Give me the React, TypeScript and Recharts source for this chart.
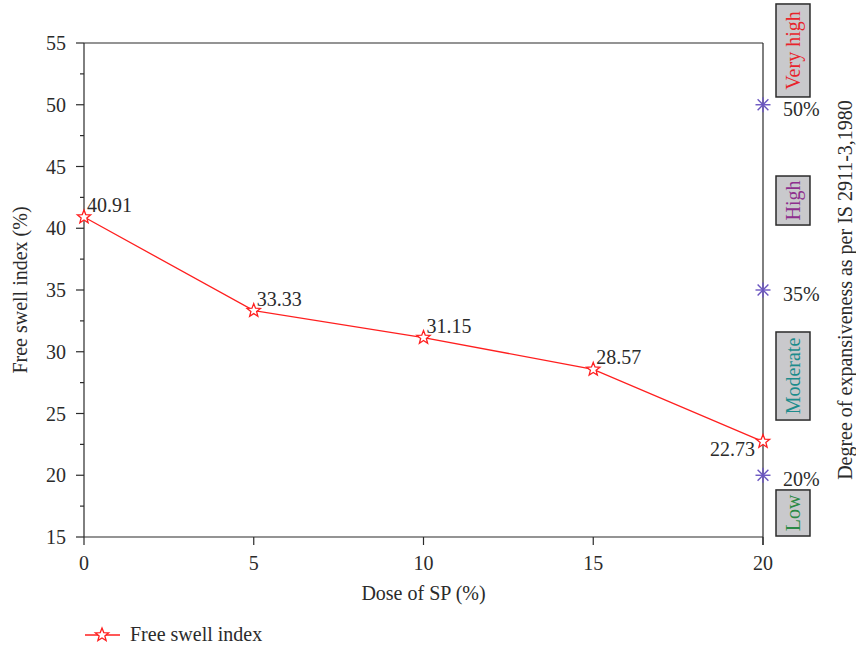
import React from 'react';
import {
  ComposedChart,
  Line,
  Scatter,
  XAxis,
  YAxis,
  ReferenceLine,
  ReferenceArea,
  LabelList,
  Legend,
} from 'recharts';

// ---- data ----
const doses = [0, 5, 10, 15, 20];
const freeSwell = [40.91, 33.33, 31.15, 28.57, 22.73];
const xTicks = [0, 5, 10, 15, 20];
const yTicks = [15, 17.5, 20, 22.5, 25, 27.5, 30, 32.5, 35, 37.5, 40, 42.5, 45, 47.5, 50, 52.5, 55];
const thresholdValues = [50, 35, 20];
const thresholdLabels = ['50%', '35%', '20%'];
const categoryNames = ['Very high', 'High', 'Moderate', 'Low'];
const categoryTop = [58.16, 44.23, 31.6, 18.81];
const categoryBottom = [50.63, 40.26, 24.47, 15.08];
const categoryColors = ['#e8232b', '#8e2f8e', '#1d8c8c', '#2a8a45'];

const lineData = doses.map((d, i) => ({ x: d, y: freeSwell[i] }));
const thresholdData = thresholdValues.map((v, i) => ({ x: 20, y: v, label: thresholdLabels[i] }));

const FONT = '"Liberation Serif", "Times New Roman", serif';
const INK = '#2b2b2b';
const RED = '#ff1f1f';
const PURPLE = '#6a55c0';
const FS = 20;

const starPoints = (cx: number, cy: number, ro: number, ri: number) => {
  const pts: string[] = [];
  for (let k = 0; k < 10; k++) {
    const r = k % 2 === 0 ? ro : ri;
    const a = -Math.PI / 2 + (k * Math.PI) / 5;
    pts.push(`${cx + r * Math.cos(a)},${cy + r * Math.sin(a)}`);
  }
  return pts.join(' ');
};

const StarDot = (props: any) => {
  const { cx, cy } = props;
  if (cx == null || cy == null) return null;
  return <polygon points={starPoints(cx, cy, 7, 3)} fill="#fff" stroke={RED} strokeWidth={1.3} />;
};

const Asterisk = (props: any) => {
  const { cx, cy } = props;
  const r = 7.5;
  const d = r * 0.72;
  return (
    <g stroke={PURPLE} strokeWidth={1.4}>
      <line x1={cx - r} y1={cy} x2={cx + r} y2={cy} />
      <line x1={cx} y1={cy - r} x2={cx} y2={cy + r} />
      <line x1={cx - d} y1={cy - d} x2={cx + d} y2={cy + d} />
      <line x1={cx - d} y1={cy + d} x2={cx + d} y2={cy - d} />
    </g>
  );
};

const YTick = (props: any) => {
  const { x, y, payload } = props;
  const v = payload.value;
  const major = Math.abs(v % 5) < 1e-6;
  return (
    <g>
      <line x1={x - (major ? 8 : 4)} y1={y} x2={x} y2={y} stroke={INK} strokeWidth={1.2} />
      {major && (
        <text x={x - 18} y={y} textAnchor="end" dominantBaseline="central" fill={INK} fontSize={FS} fontFamily={FONT}>
          {v}
        </text>
      )}
    </g>
  );
};

const ValueLabel = (props: any) => {
  const { x, y, value, index } = props;
  const last = index === freeSwell.length - 1;
  return (
    <text
      x={last ? x - 8 : x + 3}
      y={last ? y + 14 : y - 5}
      textAnchor={last ? 'end' : 'start'}
      fill={INK}
      fontSize={FS}
      fontFamily={FONT}
    >
      {Number(value).toFixed(2)}
    </text>
  );
};

const PctLabel = (props: any) => {
  const { x, y, width, height, value } = props;
  const cx = x + (width || 0) / 2;
  const cy = y + (height || 0) / 2;
  return (
    <text x={cx + 20} y={cy + 4} dominantBaseline="central" fill={INK} fontSize={FS} fontFamily={FONT}>
      {value}
    </text>
  );
};

const makeBox = (name: string, color: string) => (props: any) => {
  const { x, y, width, height } = props;
  return (
    <g>
      <rect x={x} y={y} width={width} height={height} fill="#c9c9cc" stroke={INK} strokeWidth={1.5} />
      <text
        x={x + width / 2}
        y={y + height / 2}
        transform={`rotate(-90, ${x + width / 2}, ${y + height / 2})`}
        textAnchor="middle"
        dominantBaseline="central"
        fill={color}
        fontSize={FS}
        fontFamily={FONT}
      >
        {name}
      </text>
    </g>
  );
};

const LegendContent = () => (
  <svg width={250} height={26}>
    <line x1={5} y1={13} x2={40} y2={13} stroke={RED} strokeWidth={1.3} />
    <polygon points={starPoints(22, 13, 7, 3)} fill="#fff" stroke={RED} strokeWidth={1.3} />
    <text x={50} y={19} fill={INK} fontSize={FS} fontFamily={FONT}>
      Free swell index
    </text>
  </svg>
);

export default function App() {
  return (
    <div style={{ position: 'absolute', left: 0, top: 0, width: 856, height: 649, background: '#fff' }}>
      <ComposedChart width={856} height={649} margin={{ top: 43, right: 93, bottom: 72, left: 0 }}>
        <XAxis
          dataKey="x"
          type="number"
          domain={[0, 20]}
          ticks={xTicks}
          interval={0}
          height={40}
          tickSize={8}
          tickMargin={11}
          stroke={INK}
          axisLine={{ stroke: INK, strokeWidth: 1.2 }}
          tickLine={{ stroke: INK, strokeWidth: 1.2 }}
          tick={{ fill: INK, fontSize: FS, fontFamily: FONT }}
          label={{
            content: (p: any) => {
              const vb = p.viewBox || { x: 84, y: 537, width: 679 };
              return (
                <text x={vb.x + vb.width / 2} y={vb.y + 56} textAnchor="middle" dominantBaseline="central" fill={INK} fontSize={FS} fontFamily={FONT}>
                  Dose of SP (%)
                </text>
              );
            },
          }}
        />
        <YAxis
          dataKey="y"
          type="number"
          domain={[15, 55]}
          ticks={yTicks}
          interval={0}
          width={84}
          tickSize={0}
          tickMargin={0}
          tickLine={false}
          axisLine={{ stroke: INK, strokeWidth: 1.2 }}
          tick={<YTick />}
          label={{
            content: (p: any) => {
              const vb = p.viewBox || { x: 0, y: 43, height: 494 };
              const cx = vb.x + 20;
              const cy = vb.y + vb.height / 2;
              return (
                <text x={cx} y={cy} transform={`rotate(-90, ${cx}, ${cy})`} textAnchor="middle" dominantBaseline="central" fill={INK} fontSize={FS} fontFamily={FONT}>
                  Free swell index (%)
                </text>
              );
            },
          }}
        />
        <ReferenceLine y={55} stroke={INK} strokeWidth={1.2} />
        <ReferenceLine
          segment={[{ x: 20, y: 55 }, { x: 20, y: 14.35 }]}
          ifOverflow="visible"
          stroke={INK}
          strokeWidth={1.2}
          label={{
            content: (p: any) => {
              const vb = p.viewBox || { x: 763, y: 43 };
              const cx = vb.x + 82;
              const cy = vb.y + 247;
              return (
                <text x={cx} y={cy} transform={`rotate(-90, ${cx}, ${cy})`} textAnchor="middle" dominantBaseline="central" fill={INK} fontSize={FS} fontFamily={FONT}>
                  Degree of expansiveness as per IS 2911-3,1980
                </text>
              );
            },
          }}
        />
        {categoryNames.map((name, i) => (
          <ReferenceArea
            key={name}
            x1={20.383}
            x2={21.384}
            y1={categoryBottom[i]}
            y2={categoryTop[i]}
            ifOverflow="visible"
            shape={makeBox(name, categoryColors[i])}
          />
        ))}
        <Line
          data={lineData}
          dataKey="y"
          stroke={RED}
          strokeWidth={1.3}
          dot={<StarDot />}
          activeDot={false}
          isAnimationActive={false}
        >
          <LabelList dataKey="y" content={<ValueLabel />} />
        </Line>
        <Scatter data={thresholdData} dataKey="y" shape={<Asterisk />} isAnimationActive={false}>
          <LabelList dataKey="label" content={<PctLabel />} />
        </Scatter>
        <Legend
          layout="horizontal"
          verticalAlign="middle"
          align="center"
          wrapperStyle={{ left: 80, top: 622, width: 250, height: 26 }}
          content={<LegendContent />}
        />
      </ComposedChart>
    </div>
  );
}
